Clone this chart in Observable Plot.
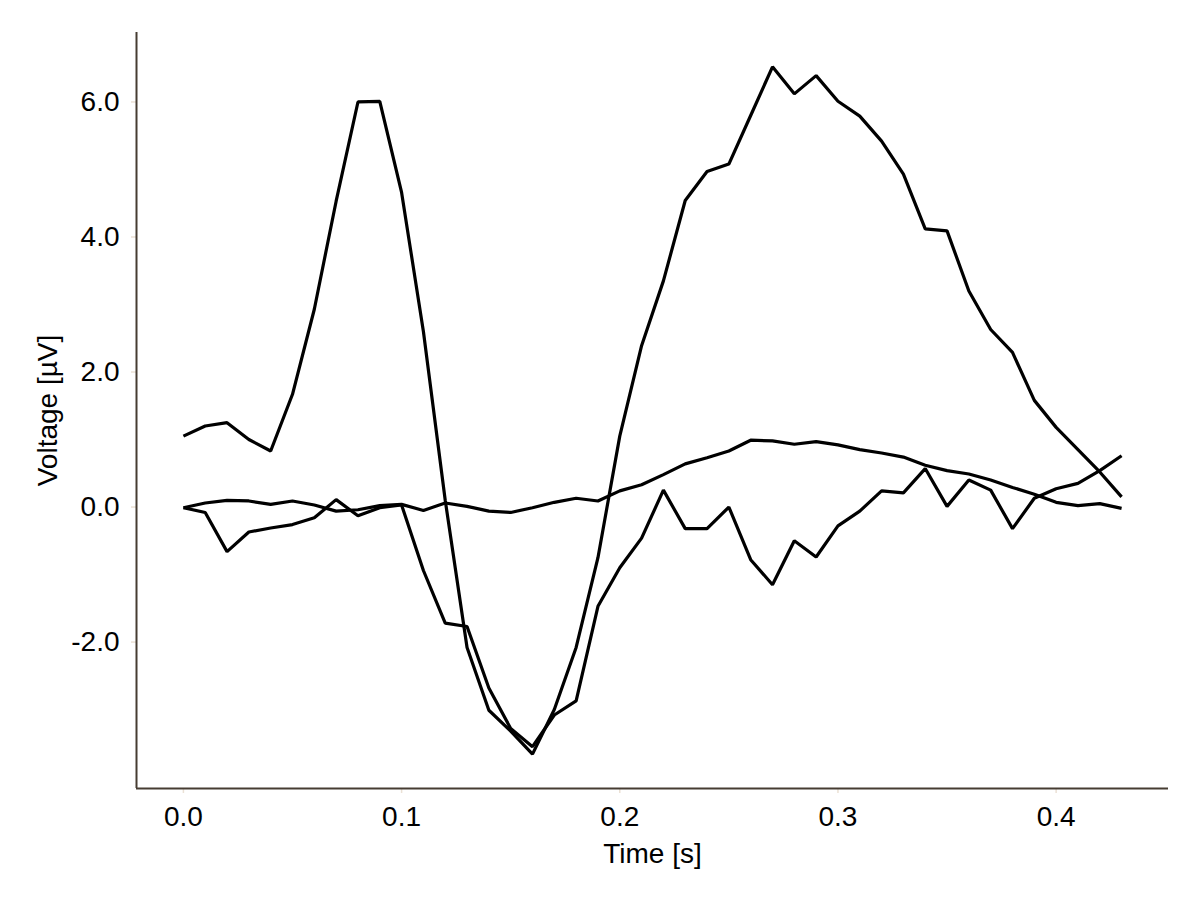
<!DOCTYPE html>
<html><head><meta charset="utf-8">
<script src="https://cdn.jsdelivr.net/npm/d3@7"></script>
<script src="https://cdn.jsdelivr.net/npm/@observablehq/plot@0.6"></script>
<style>html,body{margin:0;padding:0;background:#fff;}</style>
</head><body><div id="chart"></div>
<script>
const time = [0.00,0.01,0.02,0.03,0.04,0.05,0.06,0.07,0.08,0.09,
              0.10,0.11,0.12,0.13,0.14,0.15,0.16,0.17,0.18,0.19,
              0.20,0.21,0.22,0.23,0.24,0.25,0.26,0.27,0.28,0.29,
              0.30,0.31,0.32,0.33,0.34,0.35,0.36,0.37,0.38,0.39,
              0.40,0.41,0.42,0.43];
const seriesA = [1.05,1.20,1.25,1.00,0.83,1.67,2.93,4.53,6.00,6.01,
                 4.66,2.60,0.10,-2.08,-3.01,-3.32,-3.66,-3.00,-2.08,-0.75,
                 1.05,2.39,3.35,4.54,4.97,5.08,5.80,6.52,6.12,6.39,
                 6.01,5.79,5.42,4.93,4.12,4.09,3.20,2.63,2.29,1.58,
                 1.18,0.85,0.52,0.15];
const seriesB = [-0.01,0.06,0.10,0.09,0.04,0.09,0.03,-0.06,-0.04,0.02,
                 0.04,-0.05,0.06,0.01,-0.06,-0.08,-0.01,0.07,0.13,0.09,
                 0.24,0.33,0.48,0.64,0.73,0.83,0.99,0.98,0.93,0.97,
                 0.92,0.85,0.80,0.74,0.62,0.54,0.49,0.40,0.29,0.19,
                 0.07,0.02,0.05,-0.02];
const seriesC = [-0.01,-0.08,-0.66,-0.37,-0.31,-0.26,-0.16,0.11,-0.13,-0.01,
                 0.03,-0.94,-1.72,-1.77,-2.68,-3.28,-3.55,-3.08,-2.87,-1.47,
                 -0.90,-0.46,0.25,-0.32,-0.32,0.00,-0.78,-1.15,-0.50,-0.74,
                 -0.28,-0.06,0.24,0.21,0.57,0.01,0.40,0.25,-0.32,0.13,
                 0.27,0.35,0.54,0.76];
const xTicks = [0, 0.1, 0.2, 0.3, 0.4];
const yTicks = [-2, 0, 2, 4, 6];
const xLabel = "Time [s]";
const yLabel = "Voltage [µV]";

const rows = [];
[["A", seriesA], ["B", seriesB], ["C", seriesC]].forEach(([name, vals]) =>
  vals.forEach((v, i) => rows.push({series: name, t: time[i], v})));

const pad = (lo, hi) => { const p = (hi - lo) * 0.05; return [lo - p, hi + p]; };
const xDomain = pad(d3.min(time), d3.max(time));
const allV = rows.map(r => r.v);
const yDomain = pad(d3.min(allV), d3.max(allV));

const FONT = "'Liberation Sans', Arial, Helvetica, sans-serif";
const FS = 28;
const spine = "#463c32";
const tickCol = "#ebe1d5";

const chart = Plot.plot({
  width: 1200, height: 900,
  marginLeft: 136, marginRight: 32, marginTop: 32, marginBottom: 112,
  style: {fontFamily: FONT, fontSize: FS + "px", color: "#000", background: "#fff"},
  x: {domain: xDomain},
  y: {domain: yDomain},
  marks: [
    Plot.axisX({ticks: xTicks, tickSize: 5, stroke: tickCol, strokeWidth: 1.5, tickFormat: () => "", label: null}),
    Plot.axisX({ticks: xTicks, tickSize: 0, tickPadding: 18, tickFormat: d => d.toFixed(1), fontSize: FS, fill: "#000", label: null}),
    Plot.axisY({ticks: yTicks, tickSize: 5, stroke: tickCol, strokeWidth: 1.5, tickFormat: () => "", label: null}),
    Plot.axisY({ticks: yTicks, tickSize: 0, tickPadding: 17, tickFormat: d => d.toFixed(1), fontSize: FS, fill: "#000", label: null}),
    Plot.line(rows, {x: "t", y: "v", z: "series", stroke: "#000", strokeWidth: 3.2, strokeLinejoin: "miter", strokeLinecap: "butt"}),
    Plot.ruleX([xDomain[0]], {stroke: spine, strokeWidth: 2}),
    Plot.ruleY([yDomain[0]], {stroke: spine, strokeWidth: 2}),
    Plot.text([xLabel], {text: d => d, frameAnchor: "bottom", lineAnchor: "top", textAnchor: "middle", dy: 55, fontSize: FS, fill: "#000"}),
    Plot.text([yLabel], {text: d => d, frameAnchor: "left", rotate: -90, lineAnchor: "top", textAnchor: "middle", dx: -99, fontSize: FS, fill: "#000"})
  ]
});
document.getElementById("chart").appendChild(chart);
</script>
</body></html>
